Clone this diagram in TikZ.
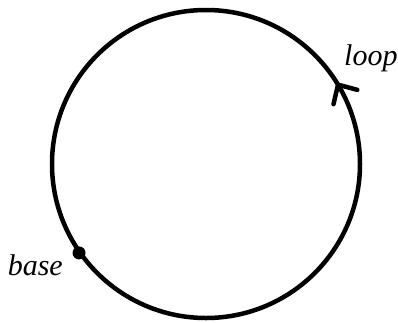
\documentclass[tikz,border=0pt]{standalone}
\usepackage{fontspec}
\setmainfont{Liberation Serif}
\usetikzlibrary{calc}
\begin{document}
\begin{tikzpicture}[x=1pt,y=1pt,
  ln/.style={line width=4.5pt, line cap=round, line join=round},
  lbl/.style={font=\fontsize{30}{32}\selectfont\itshape, inner sep=0pt}]
\useasboundingbox (-206,-158) rectangle (192,164);
\coordinate (c) at (0,0);
\draw[ln] (c) circle (154);
\coordinate (tip) at (31:154);
\draw[ln] ($(tip)+(257:20)$) -- (tip) -- ($(tip)+(345:20)$);
\coordinate (b) at (215:155);
\fill (b) circle (6.5);
\node[lbl, anchor=base east] (bl) at (-143,-111) {base};
\node[lbl, anchor=base west] (ll) at (138,99) {loop};
\end{tikzpicture}
\end{document}
